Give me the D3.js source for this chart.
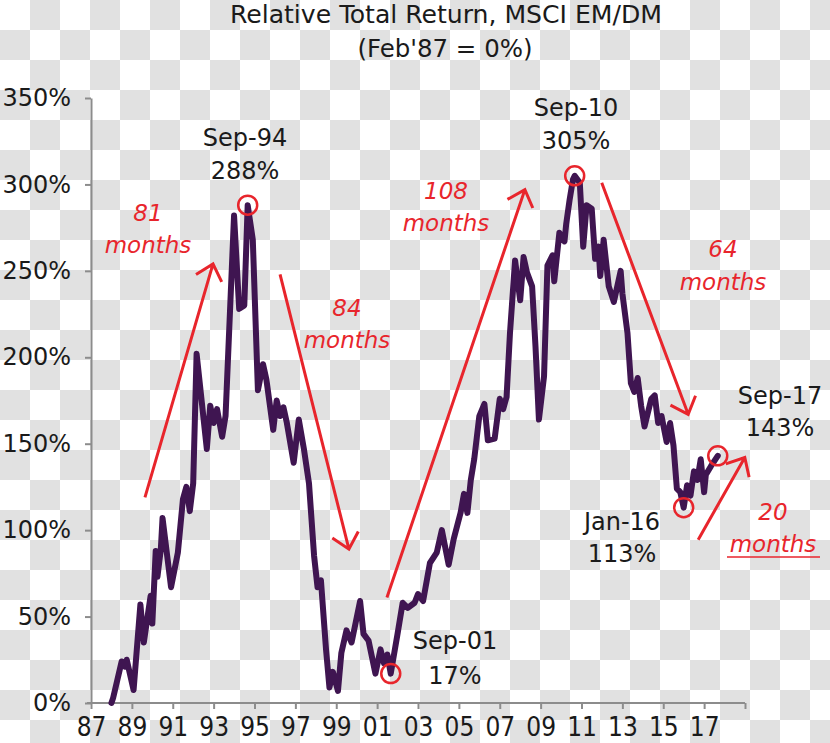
<!DOCTYPE html>
<html><head><meta charset="utf-8">
<script src="https://cdn.jsdelivr.net/npm/d3@7"></script>
<style>html,body{margin:0;padding:0;background:#fff;} svg{display:block}</style>
</head><body><svg id="c" width="830" height="743"></svg>
<script>
// ---------------- DATA ----------------
const months = [
"1988-01","1988-02","1988-07","1988-09","1988-10","1989-02","1989-06","1989-08","1989-12","1990-01",
"1990-03","1990-04","1990-06","1990-07","1990-12","1991-04","1991-07","1991-09","1991-11","1992-01",
"1992-03","1992-09","1992-11","1993-01","1993-03","1993-06","1993-08","1994-01","1994-04","1994-07",
"1994-09","1994-12","1995-03","1995-06","1995-08","1995-12","1996-02","1996-04","1996-06","1996-08",
"1996-12","1997-03","1997-06","1997-09","1997-12","1998-02","1998-04","1998-07","1998-09","1998-11",
"1999-02","1999-04","1999-07","1999-10","2000-03","2000-05","2000-08","2000-12","2001-03","2001-05",
"2001-07","2001-09","2002-01","2002-04","2002-07","2002-11","2003-01","2003-04","2003-08","2003-12",
"2004-03","2004-07","2004-10","2005-02","2005-04","2005-06","2005-08","2005-10","2006-01","2006-04",
"2006-06","2006-10","2007-01","2007-03","2007-05","2007-07","2007-10","2008-01","2008-03","2008-05",
"2008-08","2008-10","2008-12","2009-03","2009-05","2009-08","2009-09","2009-12","2010-03","2010-04",
"2010-06","2010-08","2010-09","2010-12","2011-02","2011-04","2011-07","2011-09","2011-11","2011-12",
"2012-02","2012-05","2012-08","2012-10","2012-12","2013-01","2013-04","2013-06","2013-08","2013-10",
"2013-12","2014-02","2014-04","2014-06","2014-08","2014-10","2014-12","2015-03","2015-05","2015-07",
"2015-09","2015-11","2016-01","2016-03","2016-05","2016-07","2016-09","2016-11","2017-01","2017-02",
"2017-05","2017-09"];
const values = [
0,3,24,21,25,7.5,57,35,62,46,
88,73,89,107,67,87,118,125,111,127,
202,147,172,162,170,154,166,282,228,230,
288,268,181,196,187,158,175,166,171,162,
139,164,147,127,85,67,71,31,9,18,
7,29,42,35,59,40,36,17,31,23,
28,17,40,58,55,58,63,59,81,87,
100,80,95,110,121,110,129,141,166,173,
152,153,176,170,177,214,256,233,258,249,
241,206,164,189,253,259,244,272,267,277,
291,303,305,301,264,288,286,257,264,247,
268,241,232,241,250,237,214,185,180,188,
172,160,168,176,178,162,166,151,162,149,
124,122,113,126,120,134,129,141,122,132,
137,143];
const yTicks = [0,50,100,150,200,250,300,350];
const xTickYears = [1987,1989,1991,1993,1995,1997,1999,2001,2003,2005,2007,2009,2011,2013,2015,2017,2019];
const xLabels = ["87","89","91","93","95","97","99","01","03","05","07","09","11","13","15","17",""];
const highlightMonths = ["1994-09","2010-09","2001-09","2016-01","2017-09"];
const highlightNames = ["Sep-94","Sep-10","Sep-01","Jan-16","Sep-17"];
const highlightPcts = ["288%","305%","17%","113%","143%"];
const moveLabels = ["81","84","108","64","20"];
// arrow start / end in data space [decimal year, %]
const moveFrom = [[1989.64,119],[1996.25,248],[2001.48,61],[2011.99,301],[2016.71,94.5]];
const moveTo   = [[1992.97,254],[1999.62,89],[2008.23,297],[2016.22,167],[2018.99,142]];

// ---------------- LAYOUT ----------------
const W = 830, H = 743;
const hlText = [ // center x, baseline line1, baseline line2
  [245,146,179],[576,116,149],[455,649,684],[622,530,562],[780,404,436]];
const mvText = [[148,221,253],[347,316,348],[446,199,231],[723,257,290],[773,520,552]];
const RED = "#e8252c", PURPLE = "#3f1551", AXIS = "#8c8c8c";

const svg = d3.select("#c");
// transparent-style checker background
const defs = svg.append("defs");
const pat = defs.append("pattern").attr("id","chk").attr("width",60).attr("height",60)
  .attr("patternUnits","userSpaceOnUse");
pat.append("rect").attr("width",60).attr("height",60).attr("fill","#ffffff");
pat.append("rect").attr("x",30).attr("y",0).attr("width",30).attr("height",30).attr("fill","#e1e1e1");
pat.append("rect").attr("x",0).attr("y",30).attr("width",30).attr("height",30).attr("fill","#e1e1e1");
svg.append("rect").attr("width",W).attr("height",H).attr("fill","url(#chk)");

const toYear = s => { const [yy,mm] = s.split("-").map(Number); return yy + (mm-1)/12; };
const data = months.map((m,i)=>({m, t:toYear(m), v:values[i]}));

const x = d3.scaleLinear().domain([1987,2019]).range([91,745]);
const y = d3.scaleLinear().domain([0,350]).range([703,98]);

// Title
const title = svg.append("g").attr("font-family","'Liberation Sans Narrow','DejaVu Sans Condensed',Roboto,sans-serif")
  .attr("fill","#1a1a1a").attr("text-anchor","middle");
title.append("text").attr("x",446).attr("y",23).attr("font-size",25)
  .attr("textLength",432).attr("lengthAdjust","spacingAndGlyphs").text("Relative Total Return, MSCI EM/DM");
title.append("text").attr("x",445).attr("y",57).attr("font-size",25)
  .attr("textLength",175).attr("lengthAdjust","spacingAndGlyphs").text("(Feb'87 = 0%)");

// Y axis
const gy = svg.append("g").attr("transform","translate(91,0)")
  .call(d3.axisLeft(y).tickValues(yTicks).tickSize(6).tickSizeOuter(0).tickPadding(14).tickFormat(d=>d+"%"));
gy.select(".domain").attr("stroke",AXIS).attr("stroke-width",2);
gy.selectAll(".tick line").attr("stroke",AXIS).attr("stroke-width",2);
gy.selectAll("text").attr("font-family","'DejaVu Sans',sans-serif").attr("font-size",24).attr("fill","#1a1a1a");

// X axis
const gx = svg.append("g").attr("transform","translate(0,703)")
  .call(d3.axisBottom(x).tickValues(xTickYears).tickSize(6).tickSizeOuter(0).tickFormat((d,i)=>xLabels[i]));
gx.select(".domain").attr("stroke",AXIS).attr("stroke-width",2).attr("d","M87,0H745");
gx.selectAll(".tick line").attr("stroke",AXIS).attr("stroke-width",2);
gx.selectAll("text").attr("font-family","'Liberation Sans Narrow','DejaVu Sans Condensed',sans-serif")
  .attr("font-size",26).attr("fill","#1a1a1a").attr("dy",null).attr("y",33);

// Line
svg.append("path").datum(data)
  .attr("d", d3.line().x(d=>x(d.t)).y(d=>y(d.v)))
  .attr("fill","none").attr("stroke",PURPLE).attr("stroke-width",6)
  .attr("stroke-linejoin","round").attr("stroke-linecap","round");

// Highlight circles + labels
highlightMonths.forEach((m,i)=>{
  const d = data.find(p=>p.m===m);
  svg.append("circle").attr("cx",x(d.t)).attr("cy",y(d.v)).attr("r",9.5)
    .attr("fill","none").attr("stroke",RED).attr("stroke-width",2.5);
  const g = svg.append("g").attr("font-family","'DejaVu Sans',sans-serif").attr("font-size",24)
    .attr("fill","#1a1a1a").attr("text-anchor","middle");
  g.append("text").attr("x",hlText[i][0]).attr("y",hlText[i][1]).text(highlightNames[i]);
  g.append("text").attr("x",hlText[i][0]).attr("y",hlText[i][2]).text(highlightPcts[i]);
});

// Move arrows + labels
moveFrom.forEach((f,i)=>{
  const x1=x(f[0]), y1=y(f[1]), x2=x(moveTo[i][0]), y2=y(moveTo[i][1]);
  const ang = Math.atan2(y1-y2, x1-x2), a = 42*Math.PI/180, L = 20;
  const path = `M${x1},${y1}L${x2},${y2}` +
    `M${x2+L*Math.cos(ang+a)},${y2+L*Math.sin(ang+a)}L${x2},${y2}L${x2+L*Math.cos(ang-a)},${y2+L*Math.sin(ang-a)}`;
  svg.append("path").attr("d",path).attr("fill","none").attr("stroke",RED).attr("stroke-width",3)
    .attr("stroke-linecap","butt").attr("stroke-linejoin","miter");
  const g = svg.append("g").attr("font-family","'DejaVu Sans',sans-serif").attr("font-size",23)
    .attr("font-style","italic").attr("fill",RED).attr("text-anchor","middle");
  g.append("text").attr("x",mvText[i][0]).attr("y",mvText[i][1]).text(moveLabels[i]);
  g.append("text").attr("x",mvText[i][0]).attr("y",mvText[i][2]).text("months");
  if (i===4) {
    svg.append("line").attr("x1",727).attr("x2",820).attr("y1",557).attr("y2",557)
      .attr("stroke",RED).attr("stroke-width",1.5);
  }
});
</script></body></html>
